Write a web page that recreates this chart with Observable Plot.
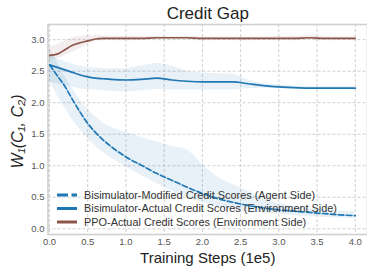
<!DOCTYPE html>
<html>
<head>
<meta charset="utf-8">
<script src="https://cdn.jsdelivr.net/npm/d3@7"></script>
<script src="https://cdn.jsdelivr.net/npm/@observablehq/plot@0.6"></script>
<style>
  html, body { margin: 0; padding: 0; background: #fff; }
  #chart svg { display: block; }
</style>
</head>
<body>
<div id="chart"></div>
<script>
const steps   = [0, 0.1, 0.2, 0.3, 0.4, 0.5, 0.6, 0.7, 0.8, 1.0, 1.2, 1.4, 1.6, 1.8, 2.0, 2.2, 2.4, 2.6, 2.8, 3.0, 3.2, 3.4, 3.6, 3.8, 4.0];

const modMean = [2.60, 2.43, 2.26, 2.05, 1.85, 1.67, 1.53, 1.41, 1.31, 1.14, 1.01, 0.88, 0.77, 0.66, 0.56, 0.48, 0.42, 0.37, 0.33, 0.30, 0.28, 0.26, 0.24, 0.22, 0.21];
const modHi   = [2.85, 2.65, 2.42, 2.22, 2.04, 1.90, 1.78, 1.68, 1.61, 1.53, 1.45, 1.38, 1.31, 1.25, 1.02, 0.82, 0.70, 0.60, 0.48, 0.40, 0.35, 0.32, 0.30, 0.28, 0.27];
const modLo   = [2.35, 2.12, 1.92, 1.73, 1.57, 1.43, 1.31, 1.21, 1.13, 0.98, 0.85, 0.72, 0.60, 0.50, 0.42, 0.35, 0.30, 0.27, 0.25, 0.23, 0.21, 0.19, 0.18, 0.17, 0.16];

const actMean = [2.60, 2.56, 2.52, 2.48, 2.44, 2.41, 2.39, 2.38, 2.37, 2.36, 2.37, 2.39, 2.36, 2.34, 2.33, 2.33, 2.33, 2.30, 2.27, 2.25, 2.24, 2.23, 2.23, 2.23, 2.23];
const actHi   = [2.75, 2.70, 2.65, 2.61, 2.58, 2.56, 2.55, 2.54, 2.54, 2.54, 2.58, 2.62, 2.58, 2.50, 2.47, 2.46, 2.45, 2.36, 2.30, 2.28, 2.26, 2.25, 2.25, 2.25, 2.25];
const actLo   = [2.33, 2.30, 2.28, 2.25, 2.22, 2.21, 2.20, 2.19, 2.18, 2.17, 2.19, 2.21, 2.20, 2.20, 2.20, 2.20, 2.20, 2.22, 2.23, 2.22, 2.21, 2.21, 2.21, 2.21, 2.21];

const ppoMean = [2.75, 2.77, 2.84, 2.91, 2.95, 2.98, 3.01, 3.02, 3.02, 3.02, 3.02, 3.03, 3.03, 3.03, 3.02, 3.02, 3.02, 3.02, 3.02, 3.02, 3.02, 3.03, 3.02, 3.02, 3.02];
const ppoHi   = [2.88, 2.92, 2.98, 3.03, 3.05, 3.06, 3.06, 3.06, 3.05, 3.05, 3.05, 3.05, 3.05, 3.05, 3.04, 3.04, 3.04, 3.04, 3.04, 3.05, 3.05, 3.06, 3.05, 3.04, 3.04];
const ppoLo   = [2.68, 2.70, 2.74, 2.80, 2.86, 2.92, 2.97, 2.99, 2.99, 2.99, 2.99, 3.00, 3.00, 3.00, 2.99, 2.99, 2.99, 2.99, 2.99, 2.99, 2.99, 3.00, 2.99, 2.99, 2.99];

const seriesNames = [
  "Bisimulator-Modified Credit Scores (Agent Side)",
  "Bisimulator-Actual Credit Scores (Environment Side)",
  "PPO-Actual Credit Scores (Environment Side)"
];
const xTicks = [0, 0.5, 1.0, 1.5, 2.0, 2.5, 3.0, 3.5, 4.0];
const yTicks = [0, 0.5, 1.0, 1.5, 2.0, 2.5, 3.0];
const titleText = "Credit Gap";
const xLabel = "Training Steps (1e5)";
const yLabel = "W\u2081(C\u2081, C\u2082)";

const BLUE = "#1f77b4", BROWN = "#8c564b";
const colors = [BLUE, BLUE, BROWN];
const dashes = ["5.5,2.5", null, null];

const build = (mean, lo, hi, name) => steps.map((s, i) => ({x: s, y: mean[i], lo: lo[i], hi: hi[i], series: name}));
const tables = [
  build(modMean, modLo, modHi, seriesNames[0]),
  build(actMean, actLo, actHi, seriesNames[1]),
  build(ppoMean, ppoLo, ppoHi, seriesNames[2])
];

const W = 367, H = 267;
const ML = 47.5, MR = 0, MT = 24, MB = 33;
const FONT = "'Liberation Sans', Arial, 'DejaVu Sans', sans-serif";

const marks = [
  Plot.gridX(xTicks, {stroke: "#c4c4c4", strokeOpacity: 1, strokeWidth: 0.8, strokeDasharray: "3,2"}),
  Plot.gridY(yTicks, {stroke: "#c4c4c4", strokeOpacity: 1, strokeWidth: 0.8, strokeDasharray: "3,2"})
];
tables.forEach((t, k) => {
  marks.push(Plot.areaY(t, {x: "x", y1: "lo", y2: "hi", fill: colors[k], fillOpacity: 0.1, curve: "monotone-x"}));
});
tables.forEach((t, k) => {
  marks.push(Plot.lineY(t, {x: "x", y: "y", stroke: colors[k], strokeWidth: 1.7, strokeDasharray: dashes[k] || undefined, curve: "monotone-x"}));
});
marks.push(
  Plot.frame({stroke: "#cfcfcf", strokeWidth: 1.6}),
  Plot.axisX(xTicks, {tickSize: 0, tickPadding: 3.5, tickFormat: d3.format(".1f"), fontSize: 9.5, fill: "#555", label: null}),
  Plot.axisY(yTicks, {tickSize: 0, tickPadding: 3.5, tickFormat: d3.format(".1f"), fontSize: 9.5, fill: "#555", label: null}),
  Plot.text([titleText], {frameAnchor: "top", dy: -11, lineAnchor: "middle", textAnchor: "middle", fontSize: 17, fill: "#222"}),
  Plot.text([xLabel], {frameAnchor: "bottom", dy: 24, lineAnchor: "middle", textAnchor: "middle", fontSize: 15, fill: "#222"}),
  Plot.text([yLabel], {frameAnchor: "left", dx: -30, dy: 2, lineAnchor: "middle", textAnchor: "middle", rotate: -90, fontSize: 16, fontStyle: "italic", fill: "#222"})
);

const chart = Plot.plot({
  width: W, height: H,
  marginLeft: ML, marginRight: MR, marginTop: MT, marginBottom: MB,
  style: {fontFamily: FONT, background: "#fff", overflow: "visible"},
  x: {domain: [-0.02, 4.16], axis: null},
  y: {domain: [-0.09, 3.24], axis: null},
  marks
});
document.getElementById("chart").appendChild(chart);

// In-plot legend (lower left)
const svg = d3.select(chart);
const lg = svg.append("g").attr("font-family", FONT).attr("font-size", 10.9).attr("text-anchor", "start");
const rowY = [195, 208.5, 222];
seriesNames.forEach((name, i) => {
  lg.append("line")
    .attr("x1", 57).attr("x2", 77).attr("y1", rowY[i]).attr("y2", rowY[i])
    .attr("stroke", colors[i]).attr("stroke-width", 3)
    .attr("stroke-dasharray", i === 0 ? "11,3.5" : null);
  lg.append("text")
    .attr("x", 84).attr("y", rowY[i]).attr("dy", "0.35em")
    .attr("text-anchor", "start")
    .attr("fill", "#333").text(name);
});
</script>
</body>
</html>
